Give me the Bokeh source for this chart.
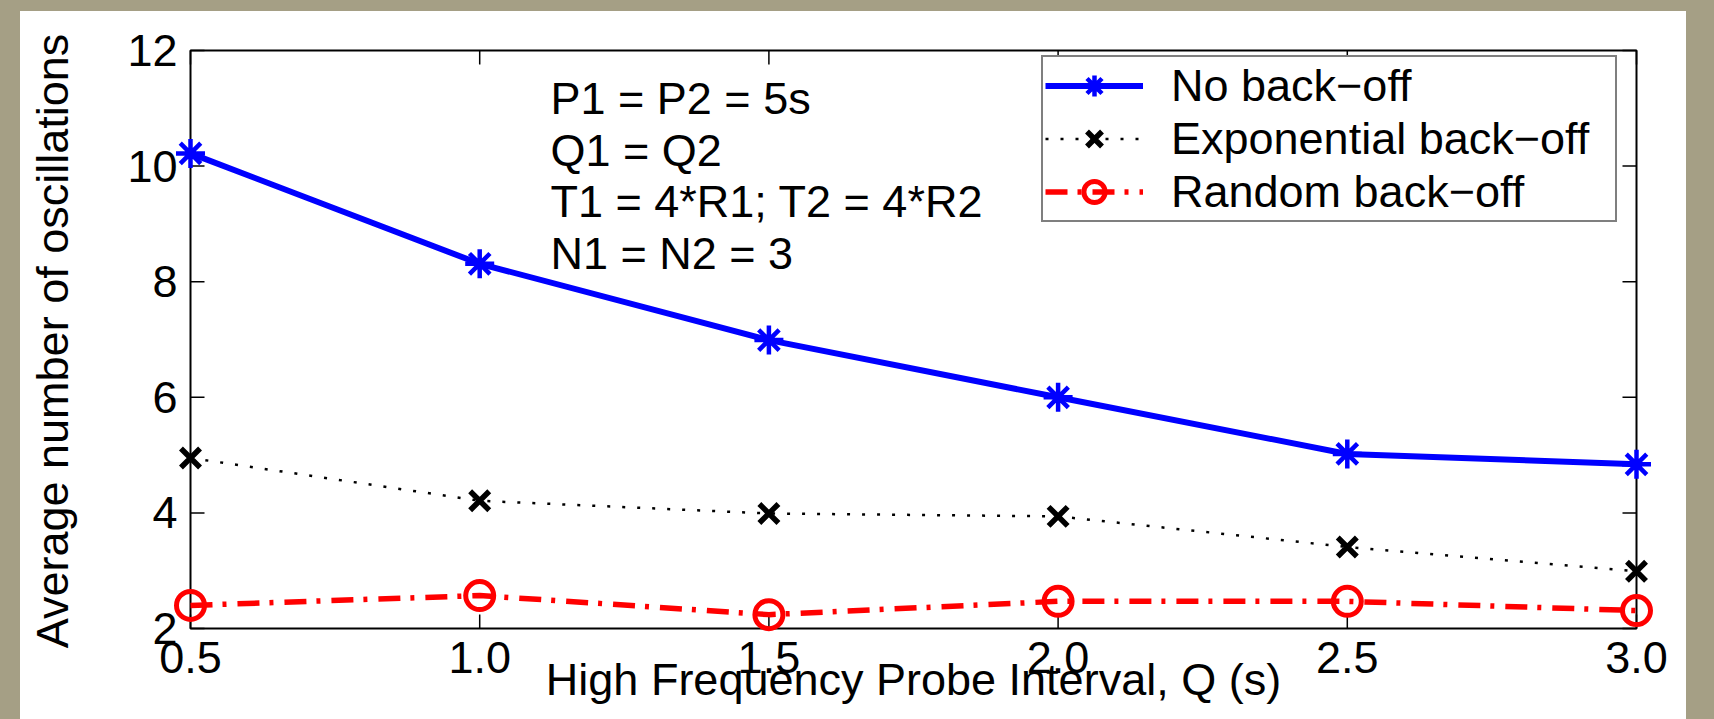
from bokeh.plotting import figure
from bokeh.models import Range1d, FixedTicker, Label, Legend, LegendItem, PrintfTickFormatter, Div
from bokeh.layouts import row, column
from bokeh.embed import file_html
from bokeh.resources import INLINE

# ---------------- data ----------------
q = [0.5, 1.0, 1.5, 2.0, 2.5, 3.0]
no_backoff = [10.22, 8.31, 6.99, 6.00, 5.02, 4.84]
exp_backoff = [4.95, 4.21, 3.99, 3.94, 3.41, 2.99]
rand_backoff = [2.40, 2.57, 2.24, 2.47, 2.47, 2.31]
x_ticks = [0.5, 1.0, 1.5, 2.0, 2.5, 3.0]
y_ticks = [2, 4, 6, 8, 10, 12]
series_names = ["No back\u2212off", "Exponential back\u2212off", "Random back\u2212off"]
note_lines = ["P1 = P2 = 5s", "Q1 = Q2", "T1 = 4*R1; T2 = 4*R2", "N1 = N2 = 3"]
x_label = "High Frequency Probe Interval, Q (s)"
y_label = "Average number of oscillations"

# ---------------- style / geometry ----------------
KHAKI = "#A59F85"
FONT = "Liberation Sans"
FS = "45px"
X0, X1, Y0, Y1 = 0.5, 3.0, 2, 12
XPX = 578.4   # px per x unit
YPX = 57.8    # px per y unit
PADL, PADR, PADT, PADB = 20, 20, 2, 5   # room so edge markers are not clipped
TICK = 14
PW, PH = 1666, 708

p = figure(width=PW, height=PH, output_backend="svg", toolbar_location=None,
           x_range=Range1d(X0 - PADL / XPX, X1 + PADR / XPX),
           y_range=Range1d(Y0 - PADB / YPX, Y1 + PADT / YPX),
           min_border_left=150, min_border_right=30, min_border_top=37, min_border_bottom=86)
p.outline_line_color = None
p.border_fill_color = "white"
p.background_fill_color = "white"
p.xgrid.visible = False
p.ygrid.visible = False

for ax in (p.xaxis[0], p.yaxis[0]):
    ax.axis_line_color = None
    ax.major_tick_line_color = None
    ax.minor_tick_line_color = None
    ax.major_tick_in = 0
    ax.major_tick_out = 0
    ax.major_label_text_font = FONT
    ax.major_label_text_font_size = FS
    ax.major_label_text_color = "black"
    ax.axis_label_text_font = FONT
    ax.axis_label_text_font_size = FS
    ax.axis_label_text_font_style = "normal"
    ax.axis_label_text_color = "black"

xb = p.xaxis[0]
xb.ticker = FixedTicker(ticks=x_ticks)
xb.formatter = PrintfTickFormatter(format="%.1f")
xb.major_label_standoff = 8
xb.axis_label = x_label
xb.axis_label_standoff = -22

yl = p.yaxis[0]
yl.ticker = FixedTicker(ticks=y_ticks)
yl.formatter = PrintfTickFormatter(format="%d")
yl.major_label_standoff = -7
yl.axis_label = y_label
yl.axis_label_standoff = 46

# ---------------- box and inward ticks ----------------
p.quad(left=[X0], right=[X1], bottom=[Y0], top=[Y1], fill_color=None,
       line_color="black", line_width=2)
n_x, n_y = len(x_ticks), len(y_ticks)
p.segment(x0=x_ticks, y0=[Y0] * n_x, x1=x_ticks, y1=[Y0 + TICK / YPX] * n_x,
          line_color="black", line_width=1.5)
p.segment(x0=x_ticks, y0=[Y1] * n_x, x1=x_ticks, y1=[Y1 - TICK / YPX] * n_x,
          line_color="black", line_width=1.5)
p.segment(x0=[X0] * n_y, y0=y_ticks, x1=[X0 + TICK / XPX] * n_y, y1=y_ticks,
          line_color="black", line_width=1.5)
p.segment(x0=[X1] * n_y, y0=y_ticks, x1=[X1 - TICK / XPX] * n_y, y1=y_ticks,
          line_color="black", line_width=1.5)

# ---------------- series ----------------
BLUE, RED = "#0000FF", "#FF0000"
l1 = p.line(q, no_backoff, line_color=BLUE, line_width=6)
m1 = p.scatter(q, no_backoff, marker="asterisk", size=29, line_color=BLUE, line_width=4.5)
l2 = p.line(q, exp_backoff, line_color="black", line_width=2.5, line_dash="3 12")
m2 = p.scatter(q, exp_backoff, marker="x", size=27, line_color="black", line_width=5.5)
l3 = p.line(q, rand_backoff, line_color=RED, line_width=5.5, line_dash="22 10 4 11")
m3 = p.scatter(q, rand_backoff, marker="circle", size=28, line_color=RED, line_width=5,
               fill_color=None)

legend = Legend(items=[LegendItem(label=series_names[0], renderers=[l1, m1]),
                       LegendItem(label=series_names[1], renderers=[l2, m2]),
                       LegendItem(label=series_names[2], renderers=[l3, m3])],
                location=(871, 411))
legend.label_text_font = FONT
legend.label_text_font_size = FS
legend.label_text_color = "black"
legend.border_line_color = "black"
legend.border_line_width = 2
legend.background_fill_color = "white"
legend.background_fill_alpha = 1
legend.padding = 2
legend.spacing = 0
legend.margin = 0
legend.glyph_width = 98
legend.glyph_height = 53
legend.label_height = 53
legend.label_width = 442
legend.label_standoff = 28
p.add_layout(legend, "center")

# ---------------- notes ----------------
note_x = X0 + (550 - 190) / XPX
for i, t in enumerate(note_lines):
    p.add_layout(Label(x=note_x, y=Y0 + (628 - 98 - i * 51.7) / YPX, text=t,
                       text_font=FONT, text_font_size=FS, text_color="black",
                       text_baseline="alphabetic", text_align="left"))

# ---------------- khaki surround ----------------
left = Div(text="", width=20, height=PH + 11, margin=0, styles={"background-color": KHAKI})
top = Div(text="", width=PW, height=11, margin=0, styles={"background-color": KHAKI})
right = Div(text="", width=28, height=PH + 11, margin=0, styles={"background-color": KHAKI})
layout = row(left, column(top, p, spacing=0), right, spacing=0)

open("out.html", "w").write(file_html(layout, INLINE))
